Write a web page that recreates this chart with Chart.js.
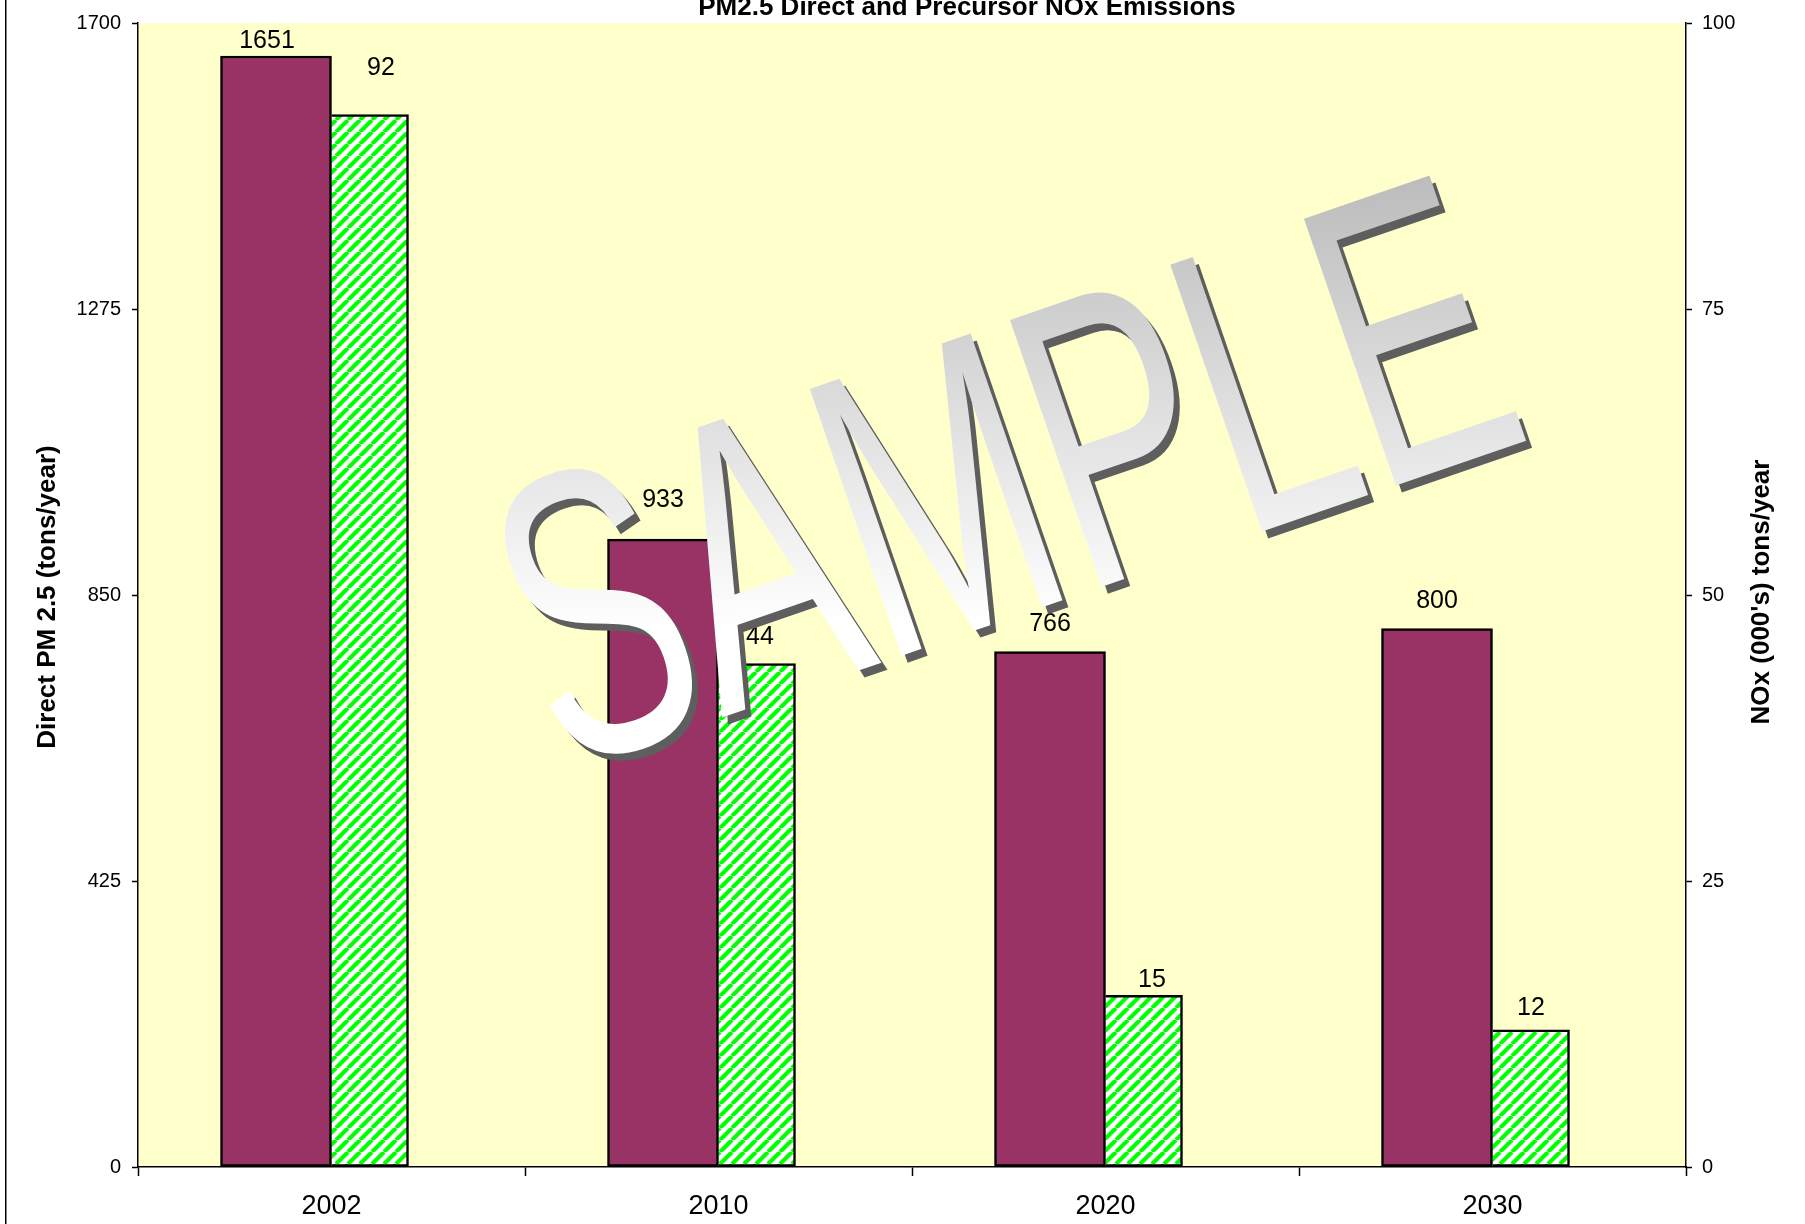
<!DOCTYPE html>
<html>
<head>
<meta charset="utf-8">
<title>PM2.5 Direct and Precursor NOx Emissions</title>
<script src="https://cdn.jsdelivr.net/npm/chart.js@4.4.1/dist/chart.umd.min.js"></script>
<style>
  html, body { margin: 0; padding: 0; background: #fff; }
  canvas { display: block; }
</style>
</head>
<body>
<canvas id="emissionsChart" width="1805" height="1224"></canvas>
<script>
// Chart data
const years = ['2002', '2010', '2020', '2030'];
const pmDirect = [1651, 933, 766, 800];
const noxPrecursor = [92, 44, 15, 12];
const pmTicks = [0, 425, 850, 1275, 1700];
const noxTicks = [0, 25, 50, 75, 100];

// value labels were nudged by hand in the original sheet: [dx, dy] from bar top
const pmLabelShift = [[-9, -15], [0, -39], [0, -27], [0, -28]];
const noxLabelShift = [[11, -46], [3, -27], [8, -15], [0, -22]];

const FONT = '"Liberation Sans", Arial, sans-serif';
Chart.defaults.font.family = FONT;
Chart.defaults.color = '#000';

// green diagonal hatch on white
function makeHatch() {
  const size = 12;
  const c = document.createElement('canvas');
  c.width = size;
  c.height = size;
  const g = c.getContext('2d');
  g.fillStyle = '#ffffff';
  g.fillRect(0, 0, size, size);
  g.strokeStyle = '#00ff00';
  g.lineWidth = 4.2;
  g.beginPath();
  for (const k of [-size, 0, size]) {
    g.moveTo(k, size);
    g.lineTo(k + size, 0);
  }
  g.stroke();
  return g.createPattern(c, 'repeat');
}

const plotBackground = {
  id: 'plotBackground',
  beforeDraw(chart) {
    const { ctx, chartArea: a } = chart;
    ctx.save();
    ctx.fillStyle = '#ffffff';
    ctx.fillRect(0, 0, chart.width, chart.height);
    ctx.fillStyle = '#ffffcc';
    ctx.fillRect(a.left, a.top, a.right - a.left, a.bottom - a.top);
    // frame edge on the far left
    ctx.fillStyle = '#000';
    ctx.fillRect(5, 0, 1.5, chart.height);
    ctx.restore();
  }
};

const valueLabels = {
  id: 'valueLabels',
  afterDatasetsDraw(chart) {
    const ctx = chart.ctx;
    ctx.save();
    ctx.font = '25px ' + FONT;
    ctx.fillStyle = '#000';
    ctx.textAlign = 'center';
    ctx.textBaseline = 'middle';
    chart.data.datasets.forEach((ds, di) => {
      const shifts = di === 0 ? pmLabelShift : noxLabelShift;
      chart.getDatasetMeta(di).data.forEach((bar, i) => {
        ctx.fillText(String(ds.data[i]), bar.x + shifts[i][0], bar.y + shifts[i][1]);
      });
    });
    ctx.restore();
  }
};

function drawSample(ctx, dx, dy, fill) {
  ctx.save();
  ctx.translate(1001 + dx, 466 + dy);
  ctx.rotate(-19 * Math.PI / 180);
  ctx.scale(0.62, 1);
  ctx.font = '410px ' + FONT;
  ctx.textAlign = 'center';
  ctx.textBaseline = 'alphabetic';
  if (fill === 'gradient') {
    const grad = ctx.createLinearGradient(-31, 157, 86, -438);
    grad.addColorStop(0, '#ffffff');
    grad.addColorStop(1, '#a4a4a4');
    ctx.fillStyle = grad;
  } else {
    ctx.fillStyle = fill;
  }
  ctx.fillText('SAMPLE', 0, 147);
  ctx.restore();
}

const chartText = {
  id: 'chartText',
  afterDraw(chart) {
    const ctx = chart.ctx;
    // watermark on top of the plot
    drawSample(ctx, 6, 7, '#5e5e5e');
    drawSample(ctx, 0, 0, 'gradient');

    ctx.save();
    ctx.fillStyle = '#000';
    ctx.font = 'bold 26px ' + FONT;
    ctx.textAlign = 'center';
    ctx.textBaseline = 'alphabetic';
    ctx.fillText('PM2.5 Direct and Precursor NOx Emissions', 967, 15);

    ctx.textBaseline = 'middle';
    ctx.save();
    ctx.translate(48, 597);
    ctx.rotate(-Math.PI / 2);
    ctx.fillText('Direct PM 2.5 (tons/year)', 0, 0);
    ctx.restore();

    ctx.save();
    ctx.translate(1762, 592);
    ctx.rotate(-Math.PI / 2);
    ctx.fillText("NOx (000's) tons/year", 0, 0);
    ctx.restore();
    ctx.restore();
  }
};

const axisBorder = { display: true, color: '#000', width: 1.5 };

new Chart(document.getElementById('emissionsChart'), {
  type: 'bar',
  data: {
    labels: years,
    datasets: [
      {
        label: 'Direct PM 2.5',
        data: pmDirect,
        yAxisID: 'yPm',
        backgroundColor: '#993366',
        borderColor: '#000',
        borderWidth: 2.5,
        borderSkipped: false,
        barThickness: 111
      },
      {
        label: 'NOx',
        data: noxPrecursor,
        yAxisID: 'yNox',
        backgroundColor: makeHatch(),
        borderColor: '#000',
        borderWidth: 2.5,
        borderSkipped: 'left',
        barThickness: 77
      }
    ]
  },
  options: {
    responsive: false,
    devicePixelRatio: 1,
    animation: false,
    layout: { padding: { top: 17, left: 0, right: 0, bottom: 0 } },
    plugins: {
      legend: { display: false },
      tooltip: { enabled: false },
      title: { display: false }
    },
    scales: {
      x: {
        offset: true,
        grid: { offset: true, drawOnChartArea: false, tickLength: 9, tickColor: '#000', tickWidth: 1.5 },
        border: axisBorder,
        ticks: { color: '#000', font: { size: 27 }, padding: 14, maxRotation: 0 },
        afterFit: s => { s.height = 57; }
      },
      yPm: {
        position: 'left',
        min: pmTicks[0],
        max: pmTicks[pmTicks.length - 1],
        afterBuildTicks: s => { s.ticks = pmTicks.map(v => ({ value: v })); },
        grid: { drawOnChartArea: false, tickLength: 6, tickColor: '#000', tickWidth: 1.5 },
        border: axisBorder,
        ticks: { color: '#000', font: { size: 20 }, padding: 11, callback: v => String(v) },
        afterFit: s => { s.width = 138; }
      },
      yNox: {
        position: 'right',
        min: noxTicks[0],
        max: noxTicks[noxTicks.length - 1],
        afterBuildTicks: s => { s.ticks = noxTicks.map(v => ({ value: v })); },
        grid: { drawOnChartArea: false, tickLength: 6, tickColor: '#000', tickWidth: 1.5 },
        border: axisBorder,
        ticks: { color: '#000', font: { size: 20 }, padding: 10, callback: v => String(v) },
        afterFit: s => { s.width = 119; }
      }
    }
  },
  plugins: [plotBackground, valueLabels, chartText]
});
</script>
</body>
</html>
